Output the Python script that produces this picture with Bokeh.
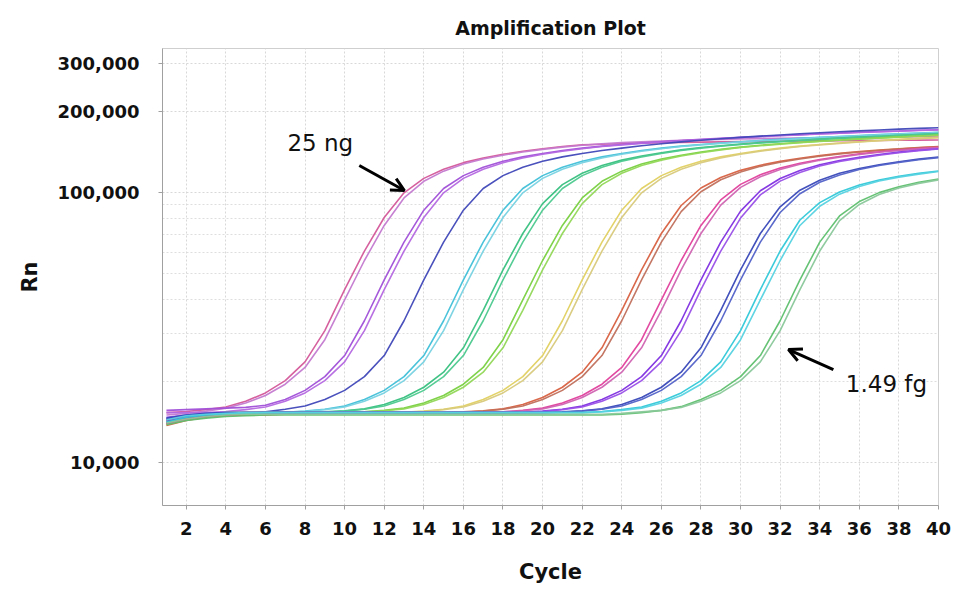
from bokeh.plotting import figure
from bokeh.models import Range1d, FixedTicker, NumeralTickFormatter, Arrow, OpenHead, Label
from bokeh.embed import file_html
from bokeh.resources import INLINE

cycles = list(range(1, 41))

# Rn values (in thousands) per well, cycles 1..40
pink_a = [15.3, 15.45, 15.7, 16.05, 16.85, 18.1, 20.1, 23.6, 30.8, 43.7,
          60.7, 80.8, 99.7, 112.8, 122, 129, 134.3, 138.5, 142.2, 145.3,
          148, 150.1, 151, 151.8, 152.4, 152.9, 153.3, 153.7, 154, 154.3,
          154.6, 154.9, 155.1, 155.3, 155.5, 155.7, 155.9, 156.1, 156.3, 156.5]
pink_b = [15.0, 15.2, 15.5, 15.9, 16.6, 17.7, 19.5, 22.5, 28.5, 40,
          56, 75.5, 95.5, 110, 120, 127.5, 133, 137.5, 141.3, 144.5,
          147.3, 149.6, 151.6, 153, 154.2, 155.2, 156, 156.7, 157.3, 157.8,
          158.3, 158.7, 159.1, 159.5, 159.8, 160.1, 160.4, 160.7, 161, 161.2]
purple_a = [15.6, 15.7, 15.8, 15.9, 16.0, 16.3, 17.1, 18.5, 20.8, 24.9,
            33.5, 47.5, 65.5, 86, 103.5, 115.5, 124, 130.5, 135.5, 139.5,
            143, 146, 148.5, 150.6, 152.5, 154.2, 155.8, 157.3, 158.7, 160,
            161.3, 162.6, 163.8, 165, 166, 167.1, 168.1, 169, 170, 170.8]
purple_b = [15.3, 15.3, 15.3, 15.45, 15.7, 16.05, 16.85, 18.1, 20.1, 23.6,
            30.8, 43.7, 60.7, 80.8, 99.7, 112.8, 122, 129, 134.3, 138.5,
            142.2, 145.3, 148, 150.1, 152, 153.8, 155.4, 156.9, 158.3, 159.7,
            161, 162.3, 163.5, 164.7, 165.8, 166.9, 167.9, 168.8, 169.7, 170.6]
blue_a = [14.4, 14.8, 15.0, 15.1, 15.2, 15.4, 15.75, 16.2, 17.1, 18.5,
          20.8, 24.9, 33.5, 47.5, 65.5, 86, 103.5, 115.5, 124, 130.5,
          135.5, 139.5, 143, 146, 149, 151.5, 154, 156.2, 158.2, 160,
          161.8, 163.4, 165, 166.5, 167.9, 169.2, 170.5, 171.7, 172.8, 173.8]
cyan_a = [14.0, 14.6, 14.9, 15.1, 15.2, 15.3, 15.35, 15.5, 15.75, 16.2,
          17.1, 18.5, 20.8, 24.9, 33.5, 47.5, 65.5, 86, 103.5, 115.5,
          124, 130.5, 135.5, 139.5, 143, 146, 148.5, 150.6, 152.5, 154.2,
          155.8, 157.3, 158.7, 160, 161.3, 162.6, 163.8, 165, 166, 167.1]
cyan_b = [14.6, 15.0, 15.2, 15.3, 15.3, 15.3, 15.3, 15.45, 15.7, 16.05,
          16.85, 18.1, 20.1, 23.6, 30.8, 43.7, 60.7, 80.8, 99.7, 112.8,
          122, 129, 134.3, 138.5, 142.2, 145.3, 148, 150.1, 152, 153.8,
          155.4, 156.9, 158.3, 159.7, 161, 162.3, 163.5, 164.7, 165.8, 166.9]
green_a = [13.9, 14.5, 14.9, 15.1, 15.2, 15.3, 15.3, 15.3, 15.4, 15.55,
           15.8, 16.4, 17.4, 19.0, 21.6, 26.6, 36.6, 51.7, 70.5, 91,
           107, 117.8, 125.8, 131.8, 136.5, 140.4, 143.8, 146.7, 149, 151.1,
           153, 154.6, 156.2, 157.6, 159, 160.4, 161.6, 162.9, 164.1, 165.2]
green_b = [14.3, 14.8, 15.1, 15.3, 15.3, 15.3, 15.3, 15.3, 15.35, 15.5,
           15.75, 16.2, 17.1, 18.5, 20.8, 24.9, 33.5, 47.5, 65.5, 86,
           103.5, 115.5, 124, 130.5, 135.5, 139.5, 143, 146, 148.5, 150.6,
           152.5, 154.2, 155.8, 157.3, 158.7, 160, 161.3, 162.6, 163.8, 165]
lgreen_a = [14.1, 14.7, 15.0, 15.2, 15.3, 15.3, 15.3, 15.3, 15.3, 15.3,
            15.4, 15.6, 15.9, 16.6, 17.7, 19.5, 22.5, 28.5, 40, 56,
            75.5, 95.5, 110, 120, 127.5, 133, 137.5, 141.3, 144.5, 147.3,
            149.6, 151.6, 153.4, 155, 156.5, 158, 159.4, 160.7, 162, 163.2]
lgreen_b = [14.5, 14.9, 15.1, 15.3, 15.3, 15.3, 15.3, 15.3, 15.3, 15.3,
            15.4, 15.55, 15.8, 16.4, 17.4, 19.0, 21.6, 26.6, 36.6, 51.7,
            70.5, 91, 107, 117.8, 125.8, 131.8, 136.5, 140.4, 143.8, 146.7,
            149, 151.1, 153, 154.6, 156.2, 157.6, 159, 160.4, 161.6, 162.9]
yellow_a = [13.8, 14.5, 14.9, 15.1, 15.2, 15.3, 15.3, 15.3, 15.3, 15.3,
            15.3, 15.3, 15.35, 15.5, 15.75, 16.2, 17.1, 18.5, 20.8, 24.9,
            33.5, 47.5, 65.5, 86, 103.5, 115.5, 124, 130.5, 135.5, 139.5,
            143, 146, 148.5, 150.6, 152.5, 154.2, 155.8, 157.3, 158.7, 160]
yellow_b = [14.2, 14.7, 15.0, 15.2, 15.3, 15.3, 15.3, 15.3, 15.3, 15.3,
            15.3, 15.3, 15.3, 15.45, 15.7, 16.05, 16.85, 18.1, 20.1, 23.6,
            30.8, 43.7, 60.7, 80.8, 99.7, 112.8, 122, 129, 134.3, 138.5,
            142.2, 145.3, 148, 150.1, 152, 153.8, 155.4, 156.9, 158.3, 159.7]
orange_a = [13.7, 14.3, 14.7, 14.9, 15.0, 15.0, 15.1, 15.1, 15.2, 15.2,
            15.3, 15.3, 15.3, 15.3, 15.3, 15.4, 15.55, 15.8, 16.4, 17.4,
            19.0, 21.6, 26.6, 36.6, 51.7, 70.5, 89.5, 103.9, 113.6, 120.8,
            126.2, 130.4, 133.9, 137, 139.6, 141.7, 143.5, 145.3, 146.7, 148.1]
orange_b = [14.0, 14.6, 14.9, 15.0, 15.1, 15.2, 15.3, 15.3, 15.3, 15.3,
            15.3, 15.3, 15.3, 15.3, 15.3, 15.35, 15.5, 15.75, 16.2, 17.1,
            18.5, 20.8, 24.9, 33.5, 47.5, 65.5, 85, 100.7, 111.5, 119.2,
            125, 129.5, 133.1, 136.3, 139, 141.2, 143.1, 144.8, 146.3, 147.8]
magenta_a = [13.9, 14.5, 14.8, 15.0, 15.1, 15.2, 15.3, 15.3, 15.3, 15.3,
             15.3, 15.3, 15.3, 15.3, 15.3, 15.3, 15.3, 15.4, 15.6, 15.9,
             16.6, 17.7, 19.5, 22.5, 28.5, 40, 56, 75.5, 93.9, 107.2,
             116.4, 123.3, 128.4, 132.5, 136, 139, 141.6, 143.7, 145.5, 147.2]
magenta_b = [14.3, 14.8, 15.0, 15.1, 15.2, 15.3, 15.3, 15.3, 15.3, 15.3,
             15.3, 15.3, 15.3, 15.3, 15.3, 15.3, 15.3, 15.4, 15.55, 15.8,
             16.4, 17.4, 19.0, 21.6, 26.6, 36.6, 51.7, 70.5, 89.8, 104.5,
             114.4, 121.8, 127.3, 131.6, 135.2, 138.3, 141, 143.1, 145.1, 146.8]
violet_a = [14.5, 14.9, 15.1, 15.2, 15.3, 15.3, 15.3, 15.3, 15.3, 15.3,
            15.3, 15.3, 15.3, 15.3, 15.3, 15.3, 15.3, 15.3, 15.35, 15.5,
            15.75, 16.2, 17.1, 18.5, 20.8, 24.9, 33.5, 47.5, 65.5, 85.3,
            101.5, 112.7, 120.6, 126.7, 131.3, 135, 138.3, 141.1, 143.4, 145.3]
violet_b = [14.7, 15.0, 15.2, 15.3, 15.3, 15.3, 15.3, 15.3, 15.3, 15.3,
            15.3, 15.3, 15.3, 15.3, 15.3, 15.3, 15.3, 15.3, 15.3, 15.45,
            15.7, 16.05, 16.85, 18.1, 20.1, 23.6, 30.8, 43.7, 60.7, 80.4,
            98, 110.2, 118.7, 125.3, 130.2, 134.1, 137.5, 140.4, 142.9, 144.9]
navy_a = [14.6, 15.0, 15.2, 15.3, 15.3, 15.3, 15.3, 15.3, 15.3, 15.3,
          15.3, 15.3, 15.3, 15.3, 15.3, 15.3, 15.3, 15.3, 15.3, 15.3,
          15.4, 15.55, 15.8, 16.4, 17.4, 19.0, 21.6, 26.6, 36.6, 51.7,
          70.5, 88.5, 102, 111, 117.8, 122.8, 126.7, 130, 132.9, 135.3]
navy_b = [14.2, 14.7, 15.0, 15.1, 15.2, 15.3, 15.3, 15.3, 15.3, 15.3,
          15.3, 15.3, 15.3, 15.3, 15.3, 15.3, 15.3, 15.3, 15.3, 15.3,
          15.35, 15.5, 15.75, 16.2, 17.1, 18.5, 20.8, 24.9, 33.5, 47.5,
          65.5, 84.3, 99, 109.1, 116.2, 121.7, 125.9, 129.3, 132.2, 134.7]
teal_a = [14.1, 14.7, 15.0, 15.1, 15.2, 15.3, 15.3, 15.3, 15.3, 15.3,
          15.3, 15.3, 15.3, 15.3, 15.3, 15.3, 15.3, 15.3, 15.3, 15.3,
          15.3, 15.3, 15.45, 15.7, 16.05, 16.85, 18.1, 20.1, 23.6, 30.8,
          43.7, 60.7, 79.1, 91.7, 100.5, 106.7, 111.3, 114.9, 117.7, 120.2]
teal_b = [14.4, 14.9, 15.1, 15.2, 15.3, 15.3, 15.3, 15.3, 15.3, 15.3,
          15.3, 15.3, 15.3, 15.3, 15.3, 15.3, 15.3, 15.3, 15.3, 15.3,
          15.3, 15.3, 15.4, 15.6, 15.9, 16.6, 17.7, 19.5, 22.5, 28.5,
          40, 56, 75.5, 88.9, 98.6, 105.3, 110.3, 114, 117, 119.6]
mint_a = [13.8, 14.3, 14.6, 14.8, 14.9, 15.0, 15.0, 15.0, 15.0, 15.0,
          15.0, 15.0, 15.0, 15.0, 15.0, 15.0, 15.0, 15.0, 15.0, 15.0,
          15.0, 15.0, 15.0, 15.1, 15.3, 15.6, 16.1, 17.1, 18.5, 20.8,
          24.9, 33.5, 47.5, 65.5, 81.9, 92.6, 99.9, 105.1, 109.1, 112.1]
mint_b = [14.0, 14.5, 14.8, 15.0, 15.1, 15.1, 15.1, 15.1, 15.1, 15.1,
          15.1, 15.1, 15.1, 15.1, 15.1, 15.1, 15.1, 15.1, 15.1, 15.1,
          15.1, 15.1, 15.1, 15.2, 15.4, 15.6, 16.0, 16.85, 18.1, 20.1,
          23.6, 30.8, 43.7, 60.7, 78.7, 90.3, 98.3, 103.9, 108.1, 111.4]

wells = [pink_a, pink_b, purple_a, purple_b, blue_a, cyan_a, cyan_b,
         green_a, green_b, lgreen_a, lgreen_b, yellow_a, yellow_b,
         orange_a, orange_b, magenta_a, magenta_b, violet_a, violet_b,
         navy_a, navy_b, teal_a, teal_b, mint_a, mint_b]
well_colors = ["#d4589a", "#c47ad0", "#a050d8", "#b468e0", "#4048b8",
               "#40c0d8", "#78d2e2", "#38c080", "#4cc98e", "#78d040", "#92d858",
               "#e0d060", "#d8ca7c", "#d86040", "#c0705c", "#e0409c", "#d064b2",
               "#8030e0", "#9a50e8", "#3848b8", "#5262c8", "#30c8d8", "#56d2e0",
               "#5ec06e", "#8ac89a"]

y_ticks = [10000, 100000, 200000, 300000]
y_minor = [20000, 30000, 40000, 50000, 60000, 70000, 80000, 90000]
x_ticks = list(range(2, 41, 2))

BOLD = "DejaVu Sans"

p = figure(width=956, height=589, output_backend="svg", toolbar_location=None,
           y_axis_type="log", x_range=Range1d(0.8, 40), y_range=Range1d(6930, 341500),
           min_border_left=162, min_border_right=18, min_border_top=48, min_border_bottom=84)

p.title.text = "Amplification Plot"
p.title.align = "center"
p.title.vertical_align = "top"
p.title.text_font = BOLD
p.title.text_font_size = "19px"
p.title.text_font_style = "bold"
p.title.text_color = "#111111"
p.title.standoff = 16

for vals, col in zip(wells, well_colors):
    p.line(cycles, [v * 1000 for v in vals], line_color=col, line_width=1.6, line_alpha=0.95)

p.xaxis.ticker = FixedTicker(ticks=x_ticks)
p.yaxis.ticker = FixedTicker(ticks=y_ticks, minor_ticks=y_minor)
p.yaxis.formatter = NumeralTickFormatter(format="0,0")

for ax in (p.xaxis[0], p.yaxis[0]):
    ax.axis_line_color = "#a0a0a0"
    ax.major_tick_line_color = "#a0a0a0"
    ax.major_tick_out = 4
    ax.major_tick_in = 0
    ax.minor_tick_out = 0
    ax.minor_tick_in = 0
    ax.major_label_text_font = BOLD
    ax.major_label_text_font_style = "bold"
    ax.major_label_text_font_size = "18px"
    ax.major_label_text_color = "#111111"
    ax.axis_label_text_font = BOLD
    ax.axis_label_text_font_style = "bold"
    ax.axis_label_text_font_size = "21px"
    ax.axis_label_text_color = "#111111"

p.xaxis.axis_label = "Cycle"
p.yaxis.axis_label = "Rn"
p.xaxis.major_label_standoff = 12
p.yaxis.major_label_standoff = 19
p.xaxis.axis_label_standoff = 22
p.yaxis.axis_label_standoff = 13

p.xgrid.grid_line_color = "#d8d8d8"
p.xgrid.grid_line_dash = "2 2"
p.ygrid.grid_line_color = "#d8d8d8"
p.ygrid.grid_line_dash = "2 2"
p.ygrid.minor_grid_line_color = "#dedede"
p.ygrid.minor_grid_line_dash = "2 2"

p.outline_line_color = "#cfcfcf"
p.background_fill_color = "white"
p.border_fill_color = "white"

# annotations
p.add_layout(Arrow(end=OpenHead(size=13, line_width=3, line_color="black"),
                   x_start=10.74, y_start=125900, x_end=13.02, y_end=101700,
                   line_width=3, line_color="black"))
p.add_layout(Arrow(end=OpenHead(size=13, line_width=3, line_color="black"),
                   x_start=34.69, y_start=22100, x_end=32.42, y_end=26200,
                   line_width=3, line_color="black"))
p.add_layout(Label(x=8.77, y=151900, text="25 ng", text_font="DejaVu Sans",
                   text_font_size="23px", text_align="center", text_baseline="middle",
                   text_color="#111111"))
p.add_layout(Label(x=37.37, y=19450, text="1.49 fg", text_font="DejaVu Sans",
                   text_font_size="23px", text_align="center", text_baseline="middle",
                   text_color="#111111"))

open("out.html", "w").write(file_html(p, INLINE))
